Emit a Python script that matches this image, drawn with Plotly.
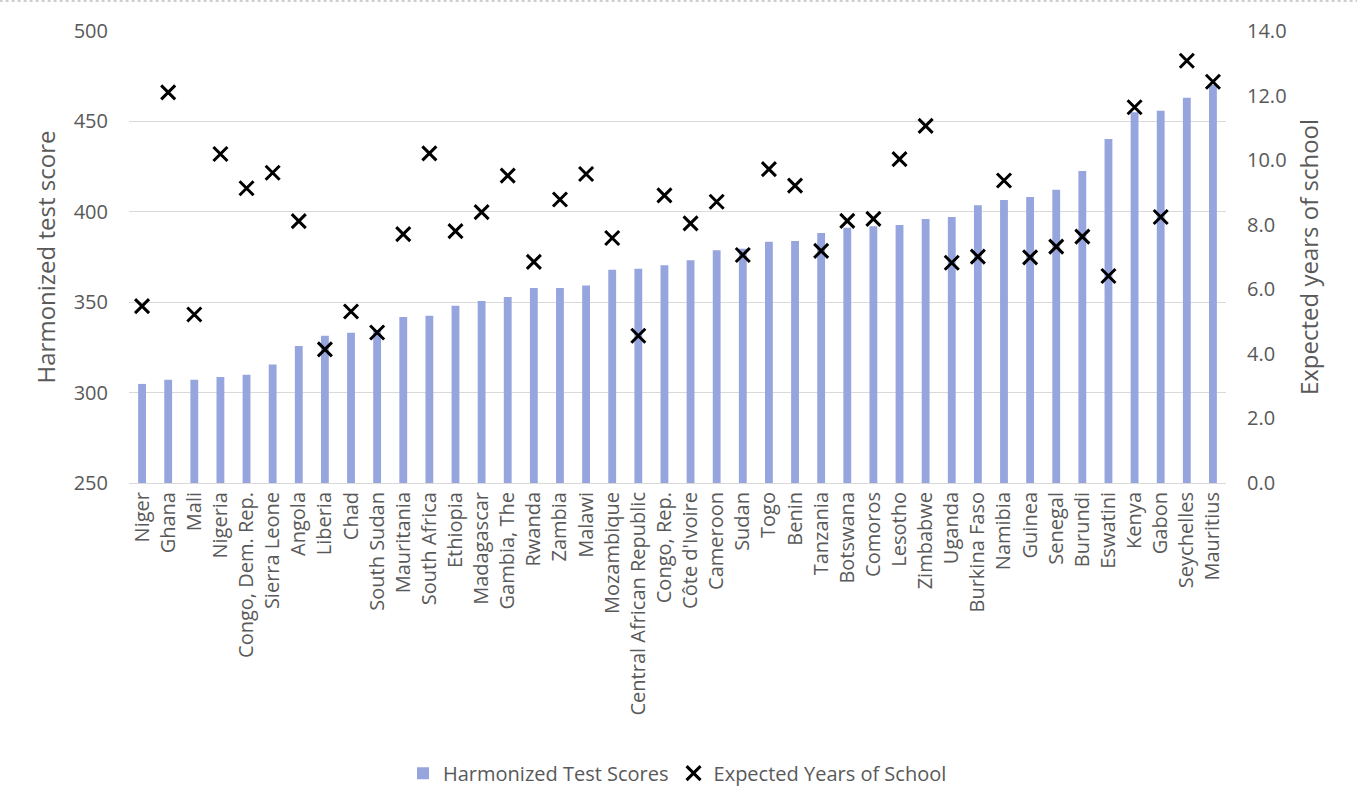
import plotly.graph_objects as go

# Countries ordered by harmonized test score
countries = [
    "Niger", "Ghana", "Mali", "Nigeria", "Congo, Dem. Rep.", "Sierra Leone",
    "Angola", "Liberia", "Chad", "South Sudan", "Mauritania", "South Africa",
    "Ethiopia", "Madagascar", "Gambia, The", "Rwanda", "Zambia", "Malawi",
    "Mozambique", "Central African Republic", "Congo, Rep.", "Côte d'Ivoire",
    "Cameroon", "Sudan", "Togo", "Benin", "Tanzania", "Botswana", "Comoros",
    "Lesotho", "Zimbabwe", "Uganda", "Burkina Faso", "Namibia", "Guinea",
    "Senegal", "Burundi", "Eswatini", "Kenya", "Gabon", "Seychelles", "Mauritius",
]

test_scores = [
    304.8, 307.1, 307.1, 308.6, 309.9, 315.6,
    325.8, 331.5, 333.1, 334.6, 341.8, 342.5,
    348.1, 350.7, 352.9, 357.9, 357.9, 359.3,
    368.0, 368.5, 370.4, 373.2,
    378.7, 379.5, 383.5, 383.8, 388.3, 391.2, 392.0,
    392.7, 396.0, 397.1, 403.6, 406.5, 408.2,
    412.2, 422.6, 440.3, 455.0, 455.9, 463.1, 470.1,
]

school_years = [
    5.48, 12.10, 5.22, 10.19, 9.13, 9.61,
    8.11, 4.14, 5.31, 4.66, 7.71, 10.21,
    7.80, 8.39, 9.52, 6.85, 8.78, 9.57,
    7.59, 4.56, 8.91, 8.04,
    8.71, 7.06, 9.72, 9.21, 7.19, 8.12, 8.18,
    10.03, 11.06, 6.82, 7.01, 9.37, 6.99,
    7.32, 7.63, 6.41, 11.64, 8.24, 13.08, 12.43,
]

score_ticks = [250, 300, 350, 400, 450, 500]
year_ticks = [0, 2, 4, 6, 8, 10, 12, 14]

FONT = "Open Sans"
GREY = "#595959"

fig = go.Figure()

fig.add_trace(go.Bar(
    x=countries,
    y=[s - 250 for s in test_scores],
    base=250,
    name="Harmonized Test Scores",
    marker=dict(color="#97A5DE", line=dict(width=0)),
    width=0.3,
    yaxis="y",
))

fig.add_trace(go.Scatter(
    x=countries,
    y=school_years,
    name="Expected Years of School",
    mode="markers",
    marker=dict(symbol="x-thin", size=14, color="black",
                line=dict(width=3, color="black")),
    yaxis="y2",
))

fig.update_layout(
    width=1357,
    height=812,
    margin=dict(l=129, r=131, t=31, b=329),
    paper_bgcolor="white",
    plot_bgcolor="white",
    font=dict(family=FONT, color=GREY, size=20),
    bargap=0.7,
    showlegend=True,
    legend=dict(
        orientation="h",
        x=0.5, xanchor="center",
        y=-0.642, yanchor="middle",
        font=dict(size=20, color=GREY),
        itemwidth=30,
        traceorder="normal",
    ),
    xaxis=dict(
        type="category",
        tickangle=-90,
        tickfont=dict(size=20, color=GREY),
        showgrid=False,
        showline=True,
        linecolor="#D9D9D9",
        linewidth=1,
        ticks="",
        range=[-0.5, len(countries) - 0.5],
    ),
    yaxis=dict(
        title=dict(text="Harmonized test score", font=dict(size=24, color=GREY), standoff=11),
        range=[250, 500],
        tickvals=score_ticks,
        ticktext=[str(v) for v in score_ticks],
        tickfont=dict(size=20, color=GREY),
        showgrid=True,
        gridcolor="#D9D9D9",
        gridwidth=1,
        zeroline=False,
        showline=False,
        ticks="",
        ticklabelstandoff=20,
    ),
    yaxis2=dict(
        title=dict(text="Expected years of school", font=dict(size=24, color=GREY), standoff=15),
        overlaying="y",
        side="right",
        range=[0, 14],
        tickvals=year_ticks,
        ticktext=[f"{v:.1f}" for v in year_ticks],
        tickfont=dict(size=20, color=GREY),
        showgrid=False,
        zeroline=False,
        showline=False,
        ticks="",
        ticklabelstandoff=20,
    ),
    shapes=[
        dict(type="line", xref="paper", yref="paper",
             x0=-0.2, x1=1.2, y0=1.0 + 30 / 452, y1=1.0 + 30 / 452,
             line=dict(color="#BFBFBF", width=1.5, dash="dot")),
    ],
)

fig.write_html("out.html")
